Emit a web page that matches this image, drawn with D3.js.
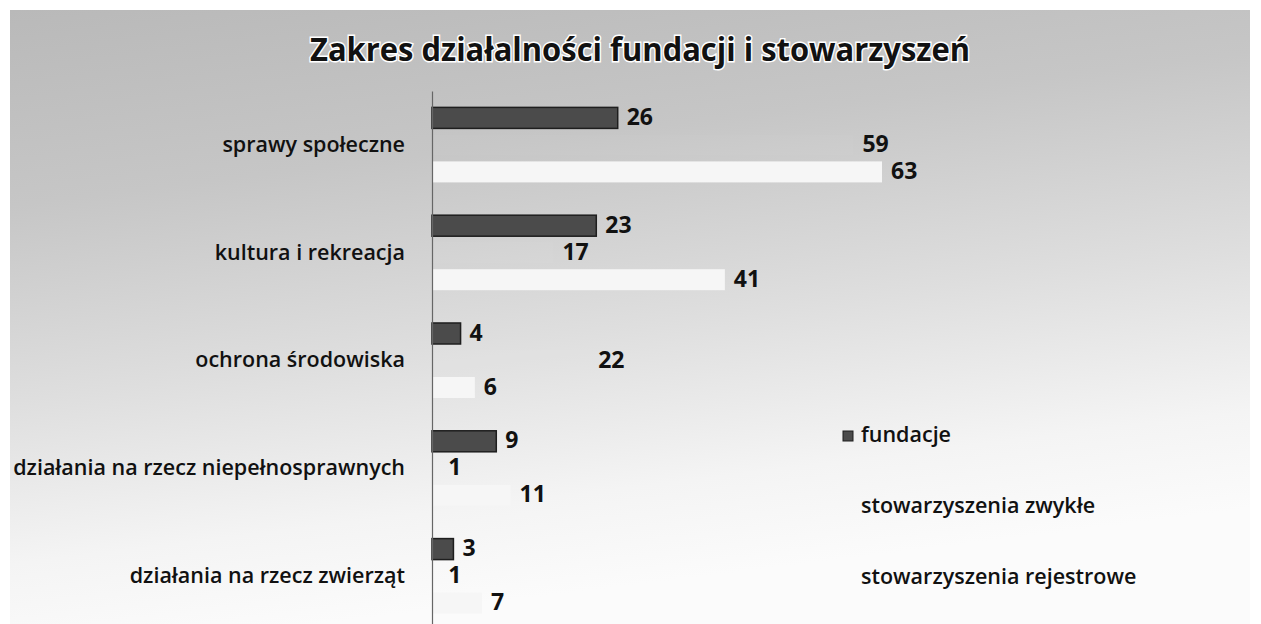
<!DOCTYPE html>
<html>
<head>
<meta charset="utf-8">
<script src="https://cdn.jsdelivr.net/npm/d3@7"></script>
<style>
  body { margin: 0; background: #fff; }
  svg { display: block; font-family: "Open Sans", Lato, sans-serif; }
</style>
</head>
<body>
<div id="chart"></div>
<script>
// dane z wykresu
const categories = ["sprawy społeczne", "kultura i rekreacja", "ochrona środowiska",
    "działania na rzecz niepełnosprawnych", "działania na rzecz zwierząt"];
const seriesNames = ["fundacje", "stowarzyszenia zwykłe", "stowarzyszenia rejestrowe"];
const fundacje = [26, 23, 4, 9, 3];
const zwykle = [59, 17, 22, 1, 1];
const rejestrowe = [63, 41, 6, 11, 7];

const seriesValues = [fundacje, zwykle, rejestrowe];
const seriesFill = ["#4b4b4b", "#ffffff", "#f6f6f6"];
const seriesFillOpacity = [1, 0.03, 1];
const seriesStroke = ["#1e1e1e", "none", "none"];

const width = 1261, height = 624;
const axisX = 432;

const svg = d3.select('#chart').append('svg')
    .attr('width', width).attr('height', height);

// tło - szary skan
const defs = svg.append('defs');
const grad = defs.append('linearGradient').attr('id', 'bg')
    .attr('x1', 0).attr('y1', 0).attr('x2', 0.25).attr('y2', 1);
grad.append('stop').attr('offset', '0%').attr('stop-color', '#b9b9b9');
grad.append('stop').attr('offset', '30%').attr('stop-color', '#c6c6c6');
grad.append('stop').attr('offset', '60%').attr('stop-color', '#dedede');
grad.append('stop').attr('offset', '85%').attr('stop-color', '#f4f4f4');
grad.append('stop').attr('offset', '100%').attr('stop-color', '#fbfbfb');

svg.append('rect').attr('x', 10).attr('y', 10).attr('width', 1240).attr('height', height - 10)
    .attr('fill', 'url(#bg)');

// skale
const X_scale = d3.scaleLinear().domain([0, 70]).range([0, 500]);
const Y_scale = d3.scaleBand().domain(categories).range([91, 630]);
const Y_inner = d3.scaleBand().domain(seriesNames).range([0, Y_scale.bandwidth()])
    .paddingInner(0.222).paddingOuter(0.607);

// tytuł
svg.append('text')
    .attr('x', 640).attr('y', 52)
    .attr('text-anchor', 'middle').attr('dominant-baseline', 'middle')
    .style('font-size', '33px').style('font-weight', 'bold')
    .attr('textLength', 660).attr('lengthAdjust', 'spacingAndGlyphs')
    .attr('fill', '#111')
    .attr('stroke', '#fff').attr('stroke-width', 3).attr('paint-order', 'stroke')
    .text('Zakres działalności fundacji i stowarzyszeń');

const plot = svg.append('g').attr('transform', `translate(${axisX},0)`);

// słupki
const groups = plot.selectAll('.grp').data(categories).join('g')
    .attr('class', 'grp')
    .attr('transform', d => `translate(0,${Y_scale(d)})`);

seriesNames.forEach((s, si) => {
    groups.append('rect')
        .attr('x', 0)
        .attr('y', Y_inner(s))
        .attr('height', Y_inner.bandwidth())
        .attr('width', (d, i) => X_scale(seriesValues[si][i]))
        .attr('fill', seriesFill[si])
        .attr('fill-opacity', seriesFillOpacity[si])
        .attr('stroke', seriesStroke[si])
        .attr('stroke-width', 1.5);

    groups.append('text')
        .attr('x', (d, i) => X_scale(seriesValues[si][i]) + 9)
        .attr('y', Y_inner(s) + Y_inner.bandwidth() / 2 + 1)
        .attr('dominant-baseline', 'middle')
        .style('font-size', '23px').style('font-weight', 'bold')
        .attr('fill', '#111')
        .text((d, i) => seriesValues[si][i]);
});

// oś pionowa
const yAxis = d3.axisLeft(Y_scale).tickSize(0).tickPadding(27);
const yAxisDraw = plot.append('g').attr('class', 'y axis').call(yAxis);
yAxisDraw.select('.domain').attr('stroke', '#666').attr('stroke-width', 1.2);
yAxisDraw.selectAll('text')
    .style('font-family', '"Open Sans", Lato, sans-serif')
    .style('font-size', '21.5px')
    .style('font-weight', '600')
    .attr('fill', '#111');

// legenda
const legend = svg.append('g').attr('transform', 'translate(843,436)');
const legItem = legend.selectAll('g').data(seriesNames).join('g')
    .attr('transform', (d, i) => `translate(0,${i * 71})`);
legItem.append('rect')
    .attr('x', 0).attr('y', -5).attr('width', 10).attr('height', 10)
    .attr('fill', (d, i) => seriesFill[i])
    .attr('fill-opacity', (d, i) => i === 0 ? 1 : 0)
    .attr('stroke', (d, i) => seriesStroke[i]);
legItem.append('text')
    .attr('x', 18).attr('y', 0)
    .attr('dominant-baseline', 'middle')
    .style('font-size', '21.5px')
    .style('font-weight', '600')
    .attr('fill', '#111')
    .text(d => d);
</script>
</body>
</html>
